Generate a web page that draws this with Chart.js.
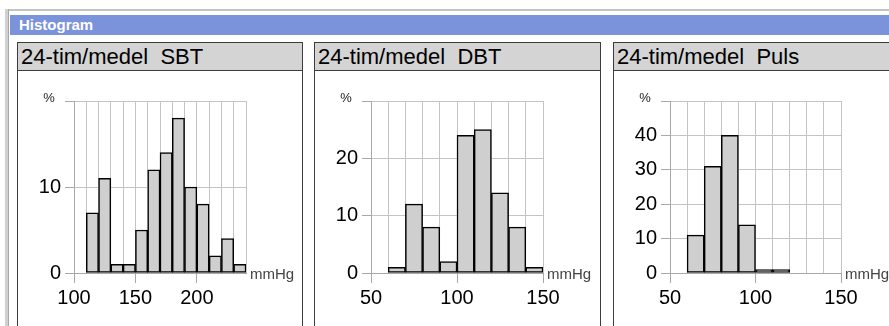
<!DOCTYPE html>
<html>
<head>
<meta charset="utf-8">
<script src="https://cdn.jsdelivr.net/npm/chart.js@4/dist/chart.umd.min.js"></script>
<style>
  body { margin: 0; width: 889px; height: 326px; overflow: hidden; background: #fff; font-family: "Liberation Sans", Arial, sans-serif; position: relative; }
  .topline { position: absolute; left: 8px; top: 9px; width: 881px; height: 2px; background: #c4c4c4; }
  .leftbar { position: absolute; left: 5px; top: 9px; width: 3px; height: 317px; background: #d0d0d0; border-right: 1px solid #a8a8a8; }
  .header { position: absolute; left: 10px; top: 15px; width: 879px; height: 20px; background: #7b93db; color: #fff; font-weight: bold; font-size: 15px; line-height: 20px; padding-left: 9px; box-sizing: border-box; }
  .panel { position: absolute; top: 42px; height: 300px; border: 1px solid #3c3c3c; background: #fff; }
  .panel .title { height: 27px; background: #d4d4d4; border-bottom: 1px solid #3c3c3c; font-size: 22px; line-height: 27px; padding-left: 3px; color: #000; white-space: pre; }
  canvas { position: absolute; }
</style>
</head>
<body>
<div class="topline"></div>
<div class="leftbar"></div>
<div class="header">Histogram</div>

<div class="panel" style="left:17px;width:284px"><div class="title">24-tim/medel  SBT</div></div>
<div class="panel" style="left:314px;width:285px"><div class="title">24-tim/medel  DBT</div></div>
<div class="panel" style="left:613px;width:290px"><div class="title">24-tim/medel  Puls</div></div>

<canvas id="sbt" width="284" height="255" style="left:18px;top:71px"></canvas>
<canvas id="dbt" width="285" height="255" style="left:315px;top:71px"></canvas>
<canvas id="puls" width="275" height="255" style="left:614px;top:71px"></canvas>

<script>
// bin left edges (mmHg / bpm) and share of readings (%)
const sbtBins = [110, 120, 130, 140, 150, 160, 170, 180, 190, 200, 210, 220, 230];
const sbtPct  = [7, 11, 1, 1, 5, 12, 14, 18, 10, 8, 2, 4, 1];

const dbtBins = [60, 70, 80, 90, 100, 110, 120, 130, 140];
const dbtPct  = [1, 12, 8, 2, 24, 25, 14, 8, 1];

const pulsBins = [60, 70, 80, 90, 100, 110];
const pulsPct  = [11, 31, 40, 14, 1, 1];

const binWidth = 10;

// axis ranges: [xMin, xMax, yMax]
const sbtRange  = [100, 240, 20];
const dbtRange  = [50, 150, 30];
const pulsRange = [50, 150, 50];

const axisUnit = 'mmHg';
const yUnit = '%';

const gridGray = '#c4c4c4';
const axisGray = '#a8a8a8';

// "%" over the y axis and the unit to the right of the x axis
const unitLabels = {
  id: 'unitLabels',
  afterDraw(chart) {
    const { ctx, chartArea } = chart;
    const y0 = chart.scales.y.getPixelForValue(0);
    ctx.save();
    ctx.fillStyle = '#222';
    ctx.font = '13px "Liberation Sans", Arial, sans-serif';
    ctx.textAlign = 'center';
    ctx.textBaseline = 'alphabetic';
    ctx.fillText(yUnit, chartArea.left - 25, chartArea.top + 1);
    ctx.fillStyle = '#444';
    ctx.font = '15px "Liberation Sans", Arial, sans-serif';
    ctx.textAlign = 'left';
    ctx.fillText(axisUnit, chartArea.right + 4, y0 + 6);
    ctx.restore();
  }
};

function histogram(id, bins, pct, range, rightPad) {
  const [xMin, xMax, yMax] = range;
  const points = bins.map((b, i) => ({ x: b + binWidth / 2, y: pct[i] }));
  return new Chart(document.getElementById(id), {
    type: 'bar',
    data: {
      datasets: [{
        data: points,
        backgroundColor: '#cfcfcf',
        borderColor: '#000',
        borderWidth: 1.5,
        borderSkipped: false,
        barPercentage: 1,
        categoryPercentage: 1
      }]
    },
    options: {
      responsive: false,
      animation: false,
      devicePixelRatio: 1,
      layout: { padding: { top: 30, right: rightPad, left: 0, bottom: 0 } },
      plugins: { legend: { display: false }, tooltip: { enabled: false } },
      scales: {
        x: {
          type: 'linear',
          min: xMin,
          max: xMax,
          offset: false,
          grid: {
            offset: false,
            color: gridGray,
            tickLength: 10,
            tickColor: c => (c.tick && c.tick.value % 50 === 0) ? axisGray : 'rgba(0,0,0,0)'
          },
          border: { color: axisGray },
          ticks: {
            stepSize: 10,
            autoSkip: false,
            maxRotation: 0,
            padding: 3,
            color: '#000',
            font: { family: '"Liberation Sans", Arial, sans-serif', size: 20 },
            callback: v => v % 50 === 0 ? v : ''
          },
          afterFit: s => { s.height = 53; }
        },
        y: {
          min: 0,
          max: yMax,
          grid: { color: gridGray, tickLength: 9, tickColor: axisGray },
          border: { color: axisGray },
          ticks: {
            stepSize: 10,
            padding: 4,
            color: '#000',
            font: { family: '"Liberation Sans", Arial, sans-serif', size: 20 },
            callback: v => v === yMax ? '' : v
          },
          afterFit: s => { s.width = 56; }
        }
      }
    },
    plugins: [unitLabels]
  });
}

histogram('sbt', sbtBins, sbtPct, sbtRange, 56);
histogram('dbt', dbtBins, dbtPct, dbtRange, 57);
histogram('puls', pulsBins, pulsPct, pulsRange, 48);
</script>
</body>
</html>
